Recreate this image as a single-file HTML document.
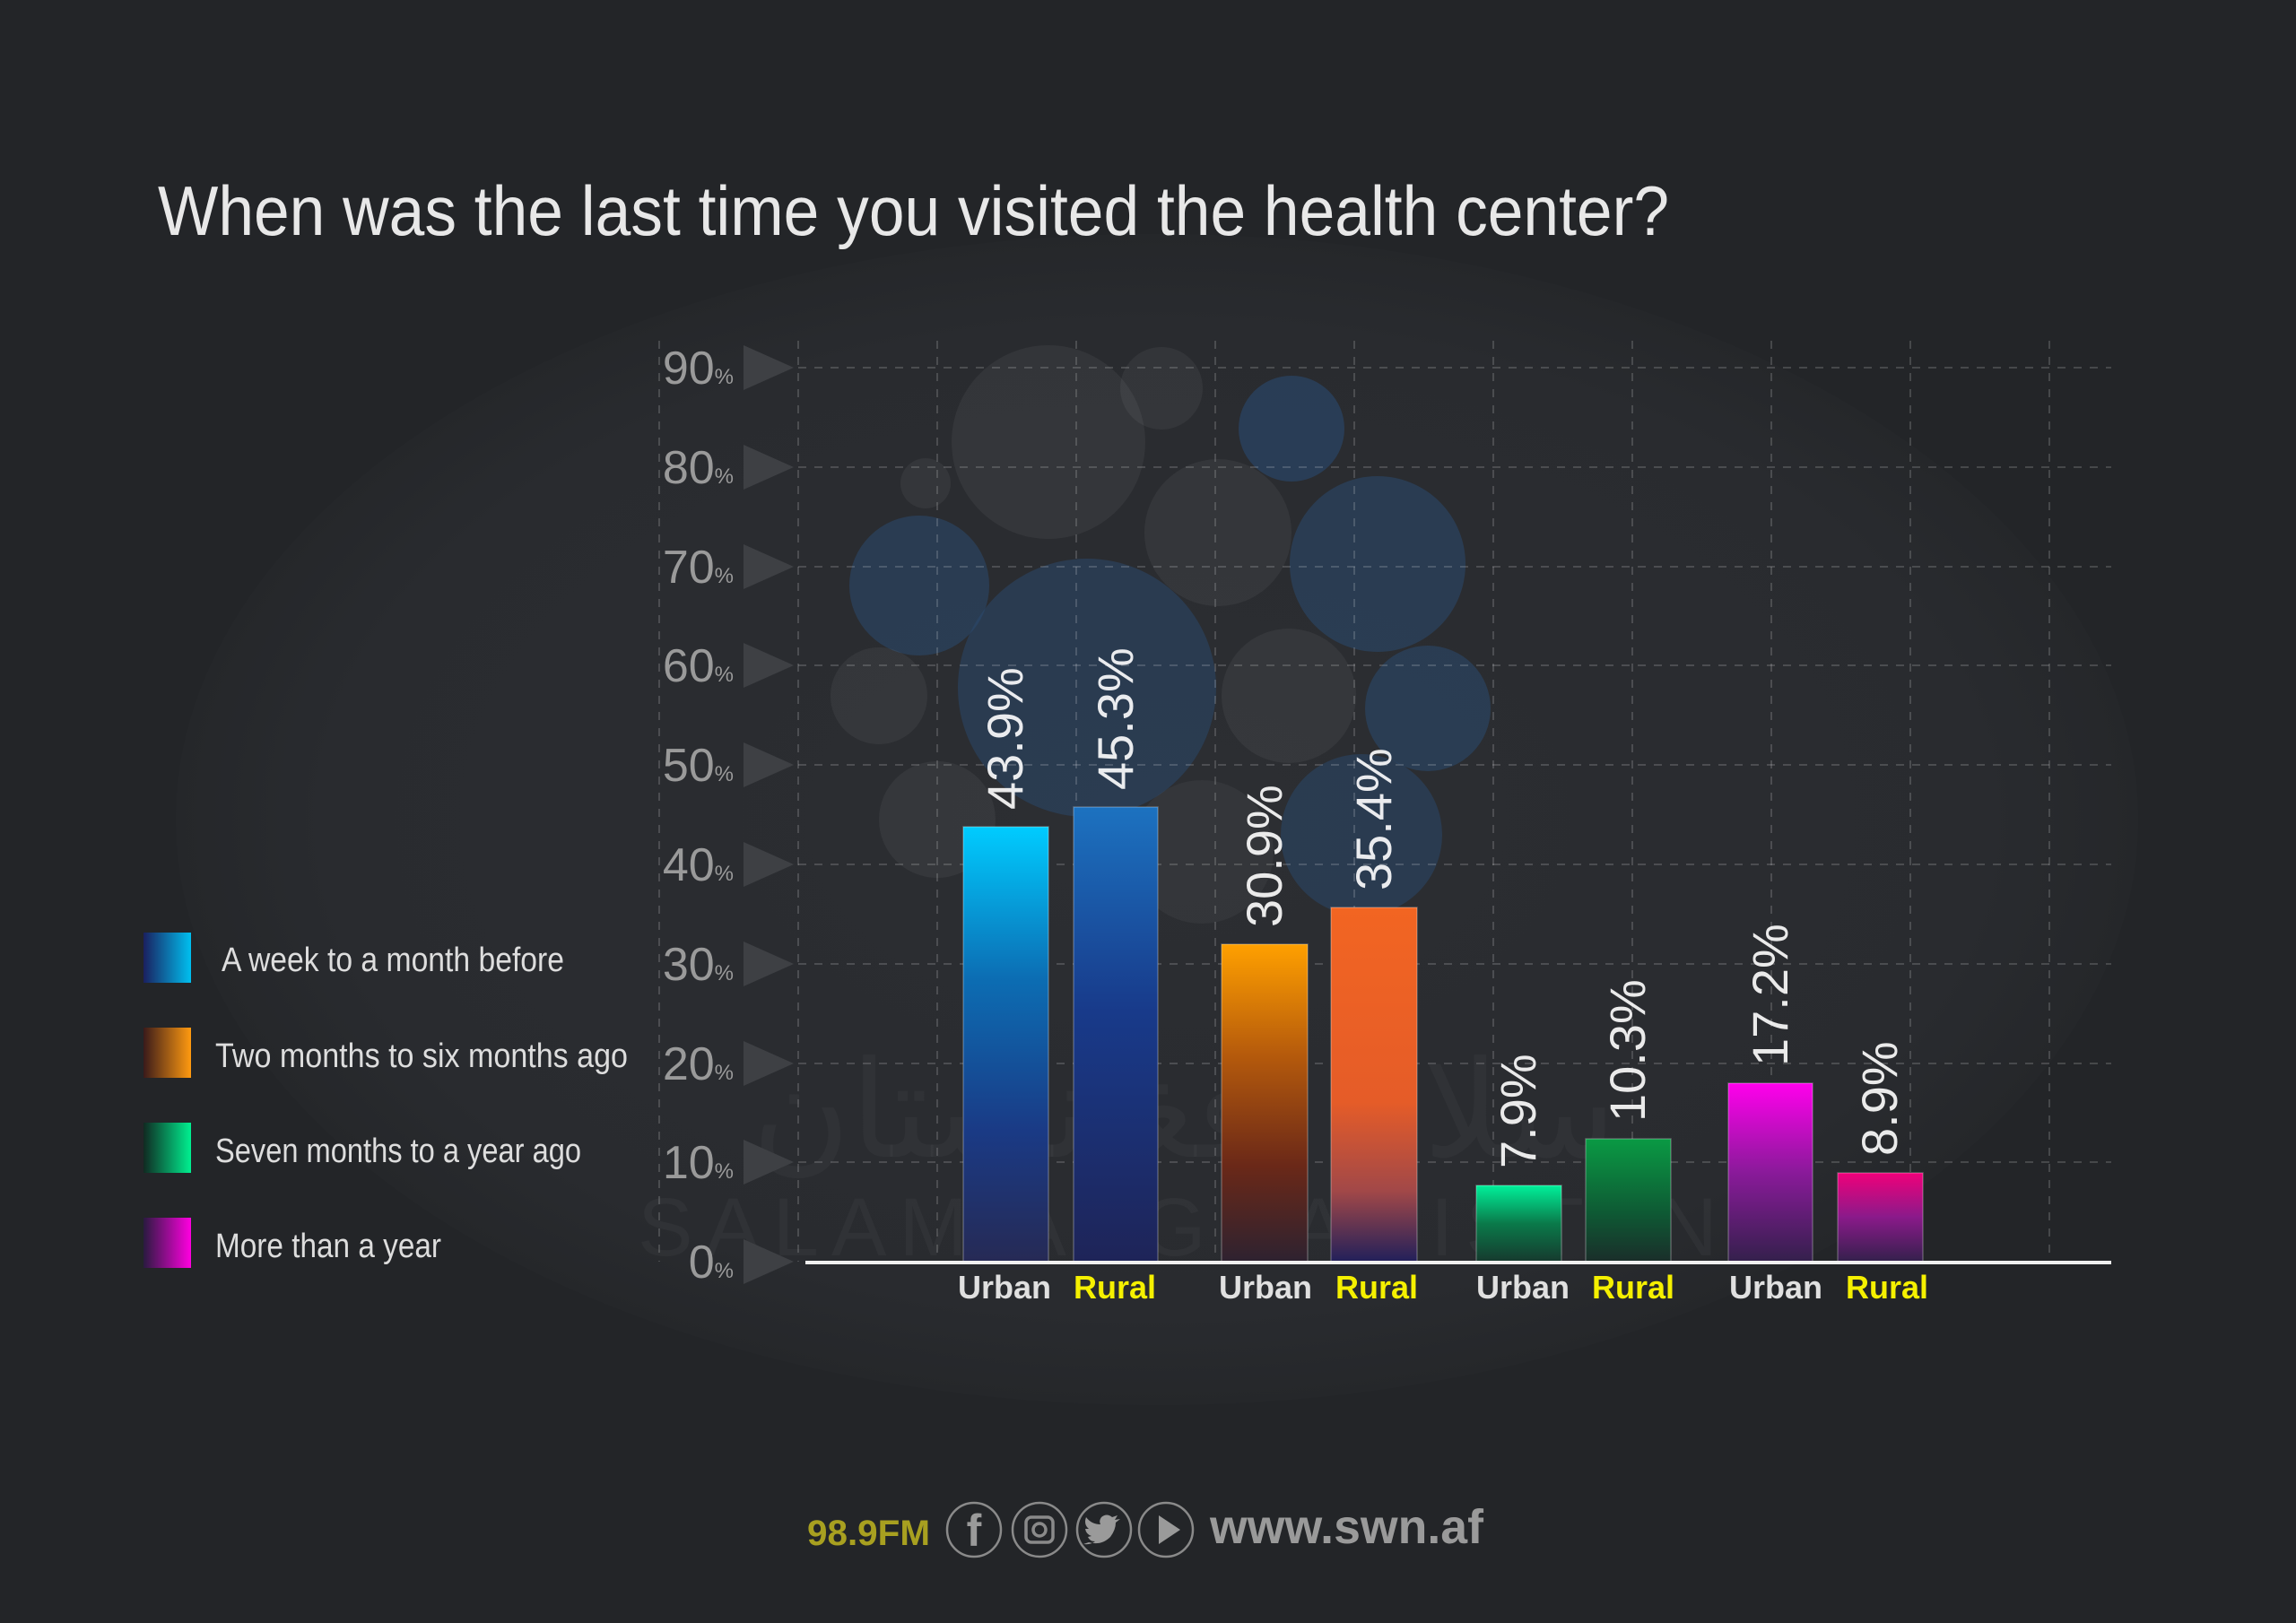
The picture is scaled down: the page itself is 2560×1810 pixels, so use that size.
<!DOCTYPE html>
<html><head><meta charset="utf-8"><style>
html,body{margin:0;padding:0;background:#232528;}
svg{display:block}
</style></head><body>
<svg width="2560" height="1810" viewBox="0 0 2560 1810" xmlns="http://www.w3.org/2000/svg" font-family="Liberation Sans, sans-serif">
<defs>
<radialGradient id="globe" cx="0.5" cy="0.5" r="0.5">
<stop offset="0" stop-color="#2c2e32"/><stop offset="0.85" stop-color="#292b2f"/><stop offset="1" stop-color="#25272a"/>
</radialGradient>
<linearGradient id="bU" x1="0" y1="0" x2="0" y2="1"><stop offset="0" stop-color="#00ccff"/><stop offset="0.35" stop-color="#0c6db3"/><stop offset="0.7" stop-color="#1a3a85"/><stop offset="1" stop-color="#262a55"/></linearGradient>
<linearGradient id="bR" x1="0" y1="0" x2="0" y2="1"><stop offset="0" stop-color="#1c72c0"/><stop offset="0.45" stop-color="#183a8a"/><stop offset="1" stop-color="#1e2458"/></linearGradient>
<linearGradient id="oU" x1="0" y1="0" x2="0" y2="1"><stop offset="0" stop-color="#ffa000"/><stop offset="0.35" stop-color="#b55a0c"/><stop offset="0.7" stop-color="#6a2818"/><stop offset="1" stop-color="#2e2230"/></linearGradient>
<linearGradient id="oR" x1="0" y1="0" x2="0" y2="1"><stop offset="0" stop-color="#f26522"/><stop offset="0.55" stop-color="#e55c28"/><stop offset="0.8" stop-color="#a24848"/><stop offset="1" stop-color="#22205a"/></linearGradient>
<linearGradient id="gU" x1="0" y1="0" x2="0" y2="1"><stop offset="0" stop-color="#00f09a"/><stop offset="0.5" stop-color="#0a7a4a"/><stop offset="1" stop-color="#163a2e"/></linearGradient>
<linearGradient id="gR" x1="0" y1="0" x2="0" y2="1"><stop offset="0" stop-color="#0a9a44"/><stop offset="0.6" stop-color="#0e5a34"/><stop offset="1" stop-color="#1a2e2a"/></linearGradient>
<linearGradient id="mU" x1="0" y1="0" x2="0" y2="1"><stop offset="0" stop-color="#ff00ec"/><stop offset="0.5" stop-color="#8a1a9a"/><stop offset="1" stop-color="#34204c"/></linearGradient>
<linearGradient id="mR" x1="0" y1="0" x2="0" y2="1"><stop offset="0" stop-color="#f0007a"/><stop offset="0.5" stop-color="#8a1a8a"/><stop offset="1" stop-color="#34204c"/></linearGradient>
<linearGradient id="lb" x1="0" y1="0" x2="1" y2="0"><stop offset="0" stop-color="#1a2060"/><stop offset="1" stop-color="#00c0f0"/></linearGradient>
<linearGradient id="lo" x1="0" y1="0" x2="1" y2="0"><stop offset="0" stop-color="#3a1a1a"/><stop offset="1" stop-color="#ff9a10"/></linearGradient>
<linearGradient id="lg" x1="0" y1="0" x2="1" y2="0"><stop offset="0" stop-color="#102a22"/><stop offset="1" stop-color="#00f090"/></linearGradient>
<linearGradient id="lm" x1="0" y1="0" x2="1" y2="0"><stop offset="0" stop-color="#2a1a40"/><stop offset="1" stop-color="#ff00e0"/></linearGradient>
</defs>
<rect width="2560" height="1810" fill="#232528"/>
<ellipse cx="1290" cy="914" rx="1094" ry="653" fill="url(#globe)"/>
<g>
<circle cx="1169" cy="493" r="108" fill="#ffffff" fill-opacity="0.05"/>
<circle cx="1295" cy="433" r="46" fill="#ffffff" fill-opacity="0.05"/>
<circle cx="1440" cy="478" r="59" fill="#2a4a70" fill-opacity="0.6"/>
<circle cx="1358" cy="594" r="82" fill="#ffffff" fill-opacity="0.05"/>
<circle cx="1536" cy="629" r="98" fill="#2a4a70" fill-opacity="0.55"/>
<circle cx="1025" cy="653" r="78" fill="#2a4a70" fill-opacity="0.55"/>
<circle cx="1212" cy="767" r="144" fill="#2a4a70" fill-opacity="0.5"/>
<circle cx="1437" cy="776" r="75" fill="#ffffff" fill-opacity="0.05"/>
<circle cx="1592" cy="790" r="70" fill="#2a4a70" fill-opacity="0.55"/>
<circle cx="980" cy="776" r="54" fill="#ffffff" fill-opacity="0.05"/>
<circle cx="1518" cy="931" r="90" fill="#2a4a70" fill-opacity="0.5"/>
<circle cx="1032" cy="539" r="28" fill="#ffffff" fill-opacity="0.05"/>
<circle cx="1045" cy="914" r="65" fill="#ffffff" fill-opacity="0.05"/>
<circle cx="1340" cy="950" r="80" fill="#ffffff" fill-opacity="0.04"/>
</g>
<g stroke="#ffffff" stroke-opacity="0.16" stroke-width="2" stroke-dasharray="9 9">
<line x1="735" y1="380" x2="735" y2="1407"/><line x1="890" y1="380" x2="890" y2="1407"/>
<line x1="1045" y1="380" x2="1045" y2="1407"/><line x1="1200" y1="380" x2="1200" y2="1407"/>
<line x1="1355" y1="380" x2="1355" y2="1407"/><line x1="1510" y1="380" x2="1510" y2="1407"/>
<line x1="1665" y1="380" x2="1665" y2="1407"/><line x1="1820" y1="380" x2="1820" y2="1407"/>
<line x1="1975" y1="380" x2="1975" y2="1407"/><line x1="2130" y1="380" x2="2130" y2="1407"/>
<line x1="2285" y1="380" x2="2285" y2="1407"/>
<line x1="890" y1="410" x2="2354" y2="410"/><line x1="890" y1="521" x2="2354" y2="521"/>
<line x1="890" y1="632" x2="2354" y2="632"/><line x1="890" y1="742" x2="2354" y2="742"/>
<line x1="890" y1="853" x2="2354" y2="853"/><line x1="890" y1="964" x2="2354" y2="964"/>
<line x1="890" y1="1075" x2="2354" y2="1075"/><line x1="890" y1="1186" x2="2354" y2="1186"/>
<line x1="890" y1="1296" x2="2354" y2="1296"/>
</g>
<text x="1320" y="1400" font-size="92" fill="#ffffff" fill-opacity="0.035" text-anchor="middle" letter-spacing="14">SALAM AFGHANISTAN</text>
<text x="1320" y="1290" font-size="150" fill="#ffffff" fill-opacity="0.03" text-anchor="middle" font-family="DejaVu Sans, sans-serif">سلام افغانستان</text>
<text x="176" y="262" font-size="78" fill="#e8e8e8" textLength="1685" lengthAdjust="spacingAndGlyphs">When was the last time you visited the health center?</text>
<g font-size="52" fill="#9a9a9a" text-anchor="end">
<text x="818" y="428">90<tspan font-size="24">%</tspan></text>
<text x="818" y="539">80<tspan font-size="24">%</tspan></text>
<text x="818" y="650">70<tspan font-size="24">%</tspan></text>
<text x="818" y="760">60<tspan font-size="24">%</tspan></text>
<text x="818" y="871">50<tspan font-size="24">%</tspan></text>
<text x="818" y="982">40<tspan font-size="24">%</tspan></text>
<text x="818" y="1093">30<tspan font-size="24">%</tspan></text>
<text x="818" y="1204">20<tspan font-size="24">%</tspan></text>
<text x="818" y="1314">10<tspan font-size="24">%</tspan></text>
<text x="818" y="1425">0<tspan font-size="24">%</tspan></text>
</g>
<g fill="#3e4044">
<polygon points="829,385 885,410 829,435"/><polygon points="829,496 885,521 829,546"/>
<polygon points="829,607 885,632 829,657"/><polygon points="829,717 885,742 829,767"/>
<polygon points="829,828 885,853 829,878"/><polygon points="829,939 885,964 829,989"/>
<polygon points="829,1050 885,1075 829,1100"/><polygon points="829,1161 885,1186 829,1211"/>
<polygon points="829,1271 885,1296 829,1321"/><polygon points="829,1382 885,1407 829,1432"/>
</g>
<g stroke="#ffffff" stroke-opacity="0.25" stroke-width="1.5">
<rect x="1074" y="922" width="95" height="485" fill="url(#bU)"/>
<rect x="1197" y="900" width="94" height="507" fill="url(#bR)"/>
<rect x="1362" y="1053" width="96" height="354" fill="url(#oU)"/>
<rect x="1484" y="1012" width="96" height="395" fill="url(#oR)"/>
<rect x="1646" y="1322" width="95" height="85" fill="url(#gU)"/>
<rect x="1768" y="1270" width="95" height="137" fill="url(#gR)"/>
<rect x="1927" y="1208" width="94" height="199" fill="url(#mU)"/>
<rect x="2049" y="1308" width="95" height="99" fill="url(#mR)"/>
</g>
<line x1="898" y1="1408" x2="2354" y2="1408" stroke="#f0f0f0" stroke-width="4"/>
<g font-size="56" fill="#ffffff" fill-opacity="0.9">
<text transform="translate(1140,903) rotate(-90)">43.9%</text>
<text transform="translate(1263,881) rotate(-90)">45.3%</text>
<text transform="translate(1429,1034) rotate(-90)">30.9%</text>
<text transform="translate(1551,993) rotate(-90)">35.4%</text>
<text transform="translate(1712,1303) rotate(-90)">7.9%</text>
<text transform="translate(1834,1251) rotate(-90)">10.3%</text>
<text transform="translate(1993,1189) rotate(-90)">17.2%</text>
<text transform="translate(2115,1289) rotate(-90)">8.9%</text>
</g>
<g font-size="36" font-weight="bold" text-anchor="middle">
<text x="1120" y="1448" fill="#e0e0e0">Urban</text><text x="1243" y="1448" fill="#f5f000">Rural</text>
<text x="1411" y="1448" fill="#e0e0e0">Urban</text><text x="1535" y="1448" fill="#f5f000">Rural</text>
<text x="1698" y="1448" fill="#e0e0e0">Urban</text><text x="1821" y="1448" fill="#f5f000">Rural</text>
<text x="1980" y="1448" fill="#e0e0e0">Urban</text><text x="2104" y="1448" fill="#f5f000">Rural</text>
</g>
<rect x="160" y="1040" width="53" height="56" fill="url(#lb)"/>
<rect x="160" y="1146" width="53" height="56" fill="url(#lo)"/>
<rect x="160" y="1252" width="53" height="56" fill="url(#lg)"/>
<rect x="160" y="1358" width="53" height="56" fill="url(#lm)"/>
<g font-size="38" fill="#dddddd">
<text x="247" y="1083" textLength="382" lengthAdjust="spacingAndGlyphs">A week to a month before</text>
<text x="240" y="1190" textLength="460" lengthAdjust="spacingAndGlyphs">Two months to six months ago</text>
<text x="240" y="1296" textLength="408" lengthAdjust="spacingAndGlyphs">Seven months to a year ago</text>
<text x="240" y="1402" textLength="252" lengthAdjust="spacingAndGlyphs">More than a year</text>
</g>
<text x="900" y="1723" font-size="40" font-weight="bold" fill="#a8a020" textLength="137" lengthAdjust="spacingAndGlyphs">98.9FM</text>
<g fill="none" stroke="#8a8a8a" stroke-width="2.5">
<circle cx="1086" cy="1706" r="30"/><circle cx="1159" cy="1706" r="30"/>
<circle cx="1231" cy="1706" r="30"/><circle cx="1300" cy="1706" r="30"/>
<rect x="1144" y="1692" width="30" height="28" rx="6" stroke-width="3.5"/>
<circle cx="1159" cy="1706" r="7" stroke-width="3.5"/>
</g>
<g fill="#9a9a9a">
<text x="1086" y="1724" font-size="50" font-weight="bold" text-anchor="middle">f</text>
<path d="M1214,1720 q14,4 24,-6 q6,-8 6,-16 l5,-4 l-6,1 l3,-5 l-6,2 q-6,-5 -12,0 q-3,4 -1,8 q-10,0 -16,-8 q-3,8 3,13 l-4,0 q1,6 7,8 l-4,1 q2,5 8,5 q-5,4 -13,3z"/>
<polygon points="1292,1690 1316,1706 1292,1722"/>
</g>
<text x="1349" y="1721" font-size="54" font-weight="bold" fill="#9a9a9a" textLength="305" lengthAdjust="spacingAndGlyphs">www.swn.af</text>
</svg>
</body></html>
